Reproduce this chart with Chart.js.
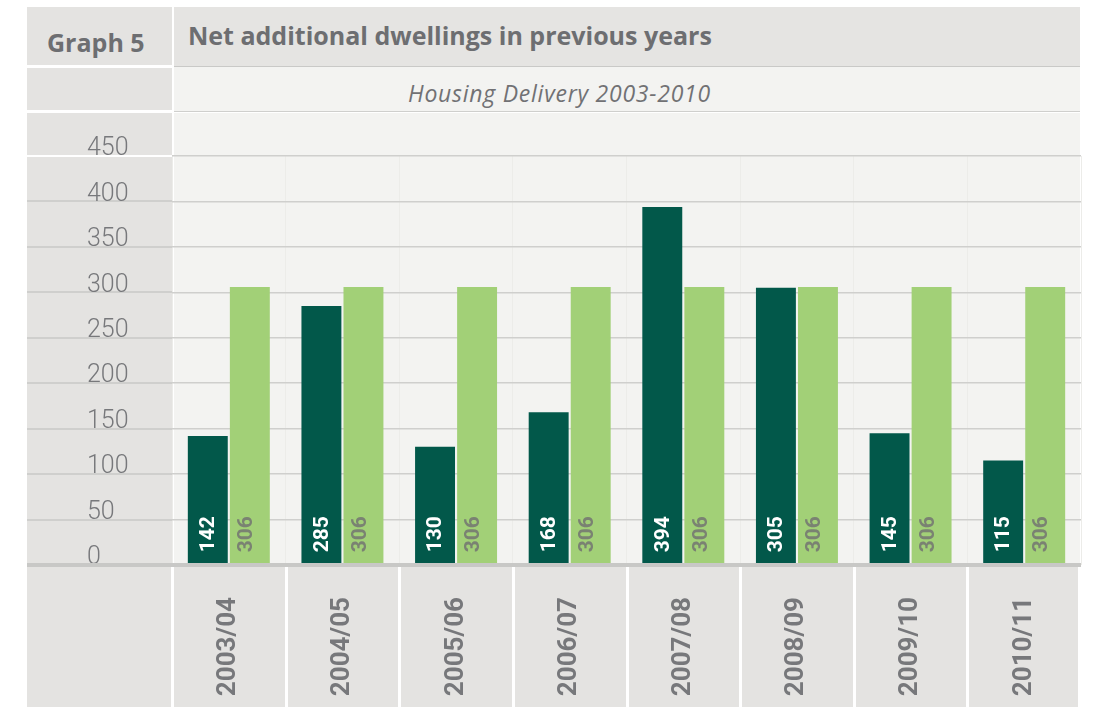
<!DOCTYPE html>
<html>
<head>
<meta charset="utf-8">
<script src="https://cdn.jsdelivr.net/npm/chart.js@4.4.1/dist/chart.umd.min.js"></script>
<style>
  body { margin: 0; background: #fff; width: 1096px; height: 707px; overflow: hidden; position: relative; font-family: "Open Sans", Roboto, sans-serif; }
  .cell { position: absolute; }
  .txt { position: absolute; white-space: nowrap; color: #6d6e71; line-height: 1; }
  #chart { position: absolute; left: 0; top: 0; }
</style>
</head>
<body>
<!-- table cells behind the chart -->
<div class="cell" style="left:27px;top:7px;width:145px;height:58px;background:#e4e3e1"></div>
<div class="cell" style="left:174px;top:7px;width:906px;height:59px;background:#e5e4e2;border-bottom:1px solid #c9c9c7"></div>
<div class="cell" style="left:27px;top:68px;width:145px;height:42px;background:#e4e3e1"></div>
<div class="cell" style="left:174px;top:67px;width:906px;height:44px;background:#f3f3f1;border-bottom:1px solid #cfcfcd"></div>
<div class="cell" style="left:27px;top:113px;width:145px;height:452px;background:#e4e3e1"></div>
<div class="cell" style="left:174px;top:113px;width:906px;height:452px;background:#f3f3f1"></div>
<div class="cell" style="left:27px;top:567px;width:1051px;height:140px;background:#e4e3e1"></div>

<div class="txt" style="left:47px;top:30px;font-size:25px;font-weight:bold">Graph 5</div>
<div class="txt" style="left:188px;top:23px;font-size:25px;font-weight:bold">Net additional dwellings in previous years</div>
<div class="txt" style="left:408px;top:82px;font-size:23px;font-style:italic;letter-spacing:0.75px;color:#717174">Housing Delivery 2003-2010</div>

<canvas id="chart" width="1096" height="707"></canvas>

<script>
const years = ['2003/04', '2004/05', '2005/06', '2006/07', '2007/08', '2008/09', '2009/10', '2010/11'];
const netDwellings = [142, 285, 130, 168, 394, 305, 145, 115];
const requirement = [306, 306, 306, 306, 306, 306, 306, 306];
const yTicks = [0, 50, 100, 150, 200, 250, 300, 350, 400, 450];

const darkGreen = '#02584a';
const lightGreen = '#a2d077';
const greyText = '#77787b';

// grey / white lines in the left column and white separators between the year cells
const tableLines = {
    id: 'tableLines',
    beforeDraw(chart) {
        const ctx = chart.ctx;
        const y = chart.scales.y;
        const x = chart.scales.x;
        ctx.save();
        yTicks.forEach(v => {
            const py = Math.round(y.getPixelForValue(v));
            ctx.fillStyle = v === 450 ? '#ffffff' : '#cfcfcd';
            if (v > 0) ctx.fillRect(27, py - 1, 145, 2);
        });
        ctx.fillStyle = '#ffffff';
        for (let i = 0; i <= years.length; i++) {
            const px = Math.round(x.getPixelForValue(i - 0.5));
            ctx.fillRect(px - 1, 567, 3, 140);
        }
        ctx.restore();
    },
    afterDatasetsDraw(chart) {
        const ctx = chart.ctx;
        ctx.save();
        ctx.fillStyle = '#c8c8c6';
        ctx.fillRect(27, chart.chartArea.bottom - 2, 1054, 4);
        ctx.restore();
    }
};

// value written upright inside the foot of each bar
const barValues = {
    id: 'barValues',
    afterDatasetsDraw(chart) {
        const ctx = chart.ctx;
        ctx.save();
        ctx.font = 'bold 21px Roboto, "Open Sans", sans-serif';
        ctx.textAlign = 'left';
        ctx.textBaseline = 'middle';
        chart.data.datasets.forEach((ds, di) => {
            const meta = chart.getDatasetMeta(di);
            meta.data.forEach((bar, i) => {
                ctx.save();
                ctx.translate(bar.x + (di === 1 ? -4 : 0), bar.base - 12);
                ctx.rotate(-Math.PI / 2);
                ctx.fillStyle = di === 0 ? '#ffffff' : '#7a8272';
                ctx.fillText(String(ds.data[i]), 0, 1);
                ctx.restore();
            });
        });
        ctx.restore();
    }
};

const config = {
    type: 'bar',
    data: {
        labels: years,
        datasets: [
            {
                label: 'Net additional dwellings',
                data: netDwellings,
                backgroundColor: darkGreen,
                categoryPercentage: 0.74,
                barPercentage: 0.95
            },
            {
                label: 'Requirement',
                data: requirement,
                backgroundColor: lightGreen,
                categoryPercentage: 0.74,
                barPercentage: 0.95
            }
        ]
    },
    options: {
        responsive: false,
        animation: false,
        layout: { padding: { left: 87, right: 15, top: 156, bottom: 0 } },
        plugins: {
            legend: { display: false },
            tooltip: { enabled: false }
        },
        scales: {
            x: {
                afterFit: scale => { scale.height = 142; },
                grid: { color: '#ecece9', lineWidth: 1, drawTicks: false, offset: true },
                border: { display: false },
                ticks: {
                    autoSkip: false,
                    minRotation: 90,
                    maxRotation: 90,
                    padding: 32,
                    color: greyText,
                    font: { family: 'Roboto, "Open Sans", sans-serif', size: 26, weight: 'bold' }
                }
            },
            y: {
                min: 0,
                max: 450,
                afterFit: scale => { scale.width = 85; },
                afterBuildTicks: scale => { scale.ticks = yTicks.map(v => ({ value: v })); },
                grid: { color: '#cfcfcd', lineWidth: 1.5, drawTicks: false },
                border: { display: false },
                ticks: {
                    crossAlign: 'far',
                    labelOffset: -7,
                    padding: 0,
                    color: greyText,
                    font: { family: 'Roboto, "Open Sans", sans-serif', size: 25, weight: 300 }
                }
            }
        }
    },
    plugins: [tableLines, barValues]
};

const graph = new Chart(document.getElementById('chart'), config);
</script>
</body>
</html>
